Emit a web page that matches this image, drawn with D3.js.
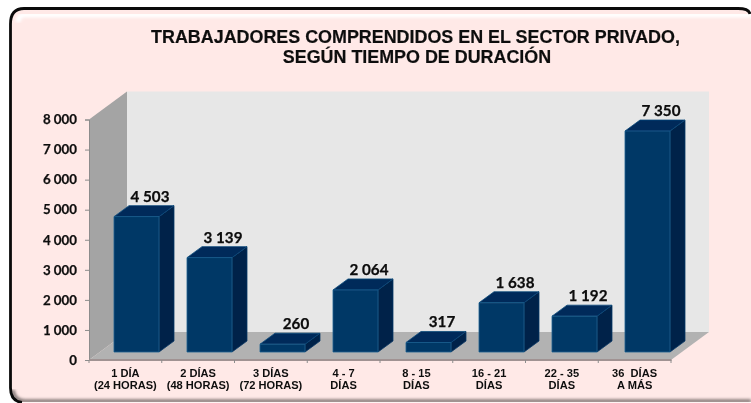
<!DOCTYPE html>
<html><head><meta charset="utf-8">
<style>html,body{margin:0;padding:0;background:#fff}svg{display:block}</style>
<script src="https://cdnjs.cloudflare.com/ajax/libs/d3/7.8.5/d3.min.js"></script></head>
<body><svg id="c" width="751" height="403"></svg>
<script>
const categories=[["1 DÍA","(24 HORAS)"],["2 DÍAS","(48 HORAS)"],["3 DÍAS","(72 HORAS)"],["4 - 7","DÍAS"],["8 - 15","DÍAS"],["16 - 21","DÍAS"],["22 - 35","DÍAS"],["36  DÍAS","A MÁS"]];
const values=[4503,3139,260,2064,317,1638,1192,7350];
const valueLabels=["4 503","3 139","260","2 064","317","1 638","1 192","7 350"];
const yTicks=[0,1000,2000,3000,4000,5000,6000,7000,8000];
const titleLines=["TRABAJADORES COMPRENDIDOS EN EL SECTOR PRIVADO,","SEGÚN TIEMPO DE DURACIÓN"];

const svg=d3.select("#c");
const defs=svg.append("defs");
const mkBlur=(id,s)=>defs.append("filter").attr("id",id).attr("x","-5%").attr("y","-5%").attr("width","110%").attr("height","110%").append("feGaussianBlur").attr("stdDeviation",s);
mkBlur("soft",1.8);mkBlur("tiny",0.4);

// panel
svg.append("rect").attr("width",751).attr("height",403).attr("fill","#fff");
svg.append("path").attr("d","M751,20 Q750,8.5 738,8.5 H24 Q10.5,8.5 10.5,24 V388 Q10.5,402.5 24,402.5 H751 Z").attr("fill","#ffe9e7");
svg.append("path").attr("d","M751,15 H24 Q19,15 18,22").attr("fill","none").attr("stroke","#fff").attr("stroke-width",5).attr("filter","url(#soft)");
svg.append("path").attr("d","M13,26 V388").attr("fill","none").attr("stroke","#9d8a88").attr("stroke-width",2).attr("filter","url(#soft)");
svg.append("path").attr("d","M751,401 H24 Q14,400 13,390").attr("fill","none").attr("stroke","#6f6563").attr("stroke-width",3).attr("filter","url(#soft)");
svg.append("path").attr("d","M750,14 Q749,8.5 738,8.5 H24 Q10.5,8.5 10.5,24 V388 Q10.5,401 22,402.5").attr("fill","none").attr("stroke","#0a0a0a").attr("stroke-width",2.8);

const chart=svg.append("g").attr("filter","url(#tiny)");
const x=d3.scaleBand().domain(d3.range(categories.length)).range([89,671]);
const xBar=d3.scaleBand().domain(d3.range(categories.length)).range([100,684]);
const y=d3.scaleLinear().domain([0,8000]).range([360,119.5]);
const dx=38,dy=-28;     // depth of the 3D box
const bdx=15,bdy=-11;   // depth of each bar
const barW=45, barBase=-8;
const x0=x.range()[0],x1=x.range()[1],yb=y(0),yt=y(8000);

const poly=(pts,fill)=>chart.append("polygon").attr("points",pts.map(p=>p.join(",")).join(" ")).attr("fill",fill);
// walls
poly([[x0+dx,yt+dy],[x1+dx,yt+dy],[x1+dx,yb+dy],[x0+dx,yb+dy]],"#e7e7e7");
poly([[x0,yt],[x0+dx,yt+dy],[x0+dx,yb+dy],[x0,yb]],"#a4a4a4");
poly([[x0,yb],[x0+dx,yb+dy],[x1+dx,yb+dy],[x1,yb]],"#b2b2b2");

// axes
const gy=chart.append("g").attr("transform",`translate(${x0},0)`).call(d3.axisLeft(y).tickValues(yTicks).tickSize(4).tickFormat(d=>d3.format(",")(d).replace(","," ")));
const gx=chart.append("g").attr("transform",`translate(0,${yb})`).call(d3.axisBottom(x).tickSize(0).tickFormat(""));
gx.selectAll(".tk").data(d3.range(categories.length+1)).enter().append("line").attr("class","tk")
  .attr("x1",i=>x0+i*x.step()).attr("x2",i=>x0+i*x.step()).attr("y1",0).attr("y2",3).attr("stroke","#777");
[gy,gx].forEach(g=>g.selectAll("path,line").attr("stroke","#8c8c8c"));
gx.select("path.domain").attr("stroke","#a09292").attr("stroke-width",2).attr("transform","translate(0,-0.5)");
gy.selectAll("text").attr("font-family","Lato, 'Open Sans', sans-serif").attr("font-weight",700).attr("font-size",13.3).attr("fill","#111").attr("stroke","#111").attr("stroke-width",.25).attr("dx",-5);

// category labels
const cat=chart.append("g").selectAll("text").data(categories).enter().append("text")
  .attr("font-family","'Liberation Sans', Arial, sans-serif").attr("font-weight",700).attr("font-size",11.1).attr("fill","#111").attr("text-anchor","middle").style("white-space","pre");
cat.each(function(d,i){const t=d3.select(this);d.forEach((s,j)=>t.append("tspan").attr("x",x(i)+x.bandwidth()/2).attr("y",y(0)+(j?29:17)).style("white-space","pre").text(s));});

// bars
const bars=chart.append("g").selectAll("g").data(values).enter().append("g");
bars.each(function(v,i){
  const g=d3.select(this);
  const l=xBar(i)+xBar.bandwidth()/2-barW/2, r=l+barW, b=y(0)+barBase, t=y(v)+barBase;
  const P=(pts,f,s)=>g.append("polygon").attr("points",pts.map(p=>p.join(",")).join(" ")).attr("fill",f).attr("stroke",s).attr("stroke-width",.8).attr("stroke-linejoin","round");
  P([[r,t],[r+bdx,t+bdy],[r+bdx,b+bdy],[r,b]],"#00214a","#0a3a66");
  P([[l,t],[l+bdx,t+bdy],[r+bdx,t+bdy],[r,t]],"#01295a","#0a4a7a");
  P([[l,t],[r,t],[r,b],[l,b]],"#033766","#1a5f8f");
  g.append("text").attr("x",l+36).attr("y",t+bdy-4).attr("text-anchor","middle")
    .attr("font-family","Lato, 'Open Sans', sans-serif").attr("font-weight",700).attr("font-size",15.2).attr("fill","#0a0a0a").attr("stroke","#0a0a0a").attr("stroke-width",.25).text(valueLabels[i]);
});

// title
chart.append("g").selectAll("text").data(titleLines).enter().append("text")
  .attr("x",(d,i)=>415.5+i*1.5).attr("y",(d,i)=>43+i*20).attr("text-anchor","middle")
  .attr("font-family","'Liberation Sans', Arial, sans-serif").attr("font-weight",700).attr("font-size",17.9).attr("fill","#111").attr("stroke","#111").attr("stroke-width",.2).text(d=>d);
</script></body></html>
